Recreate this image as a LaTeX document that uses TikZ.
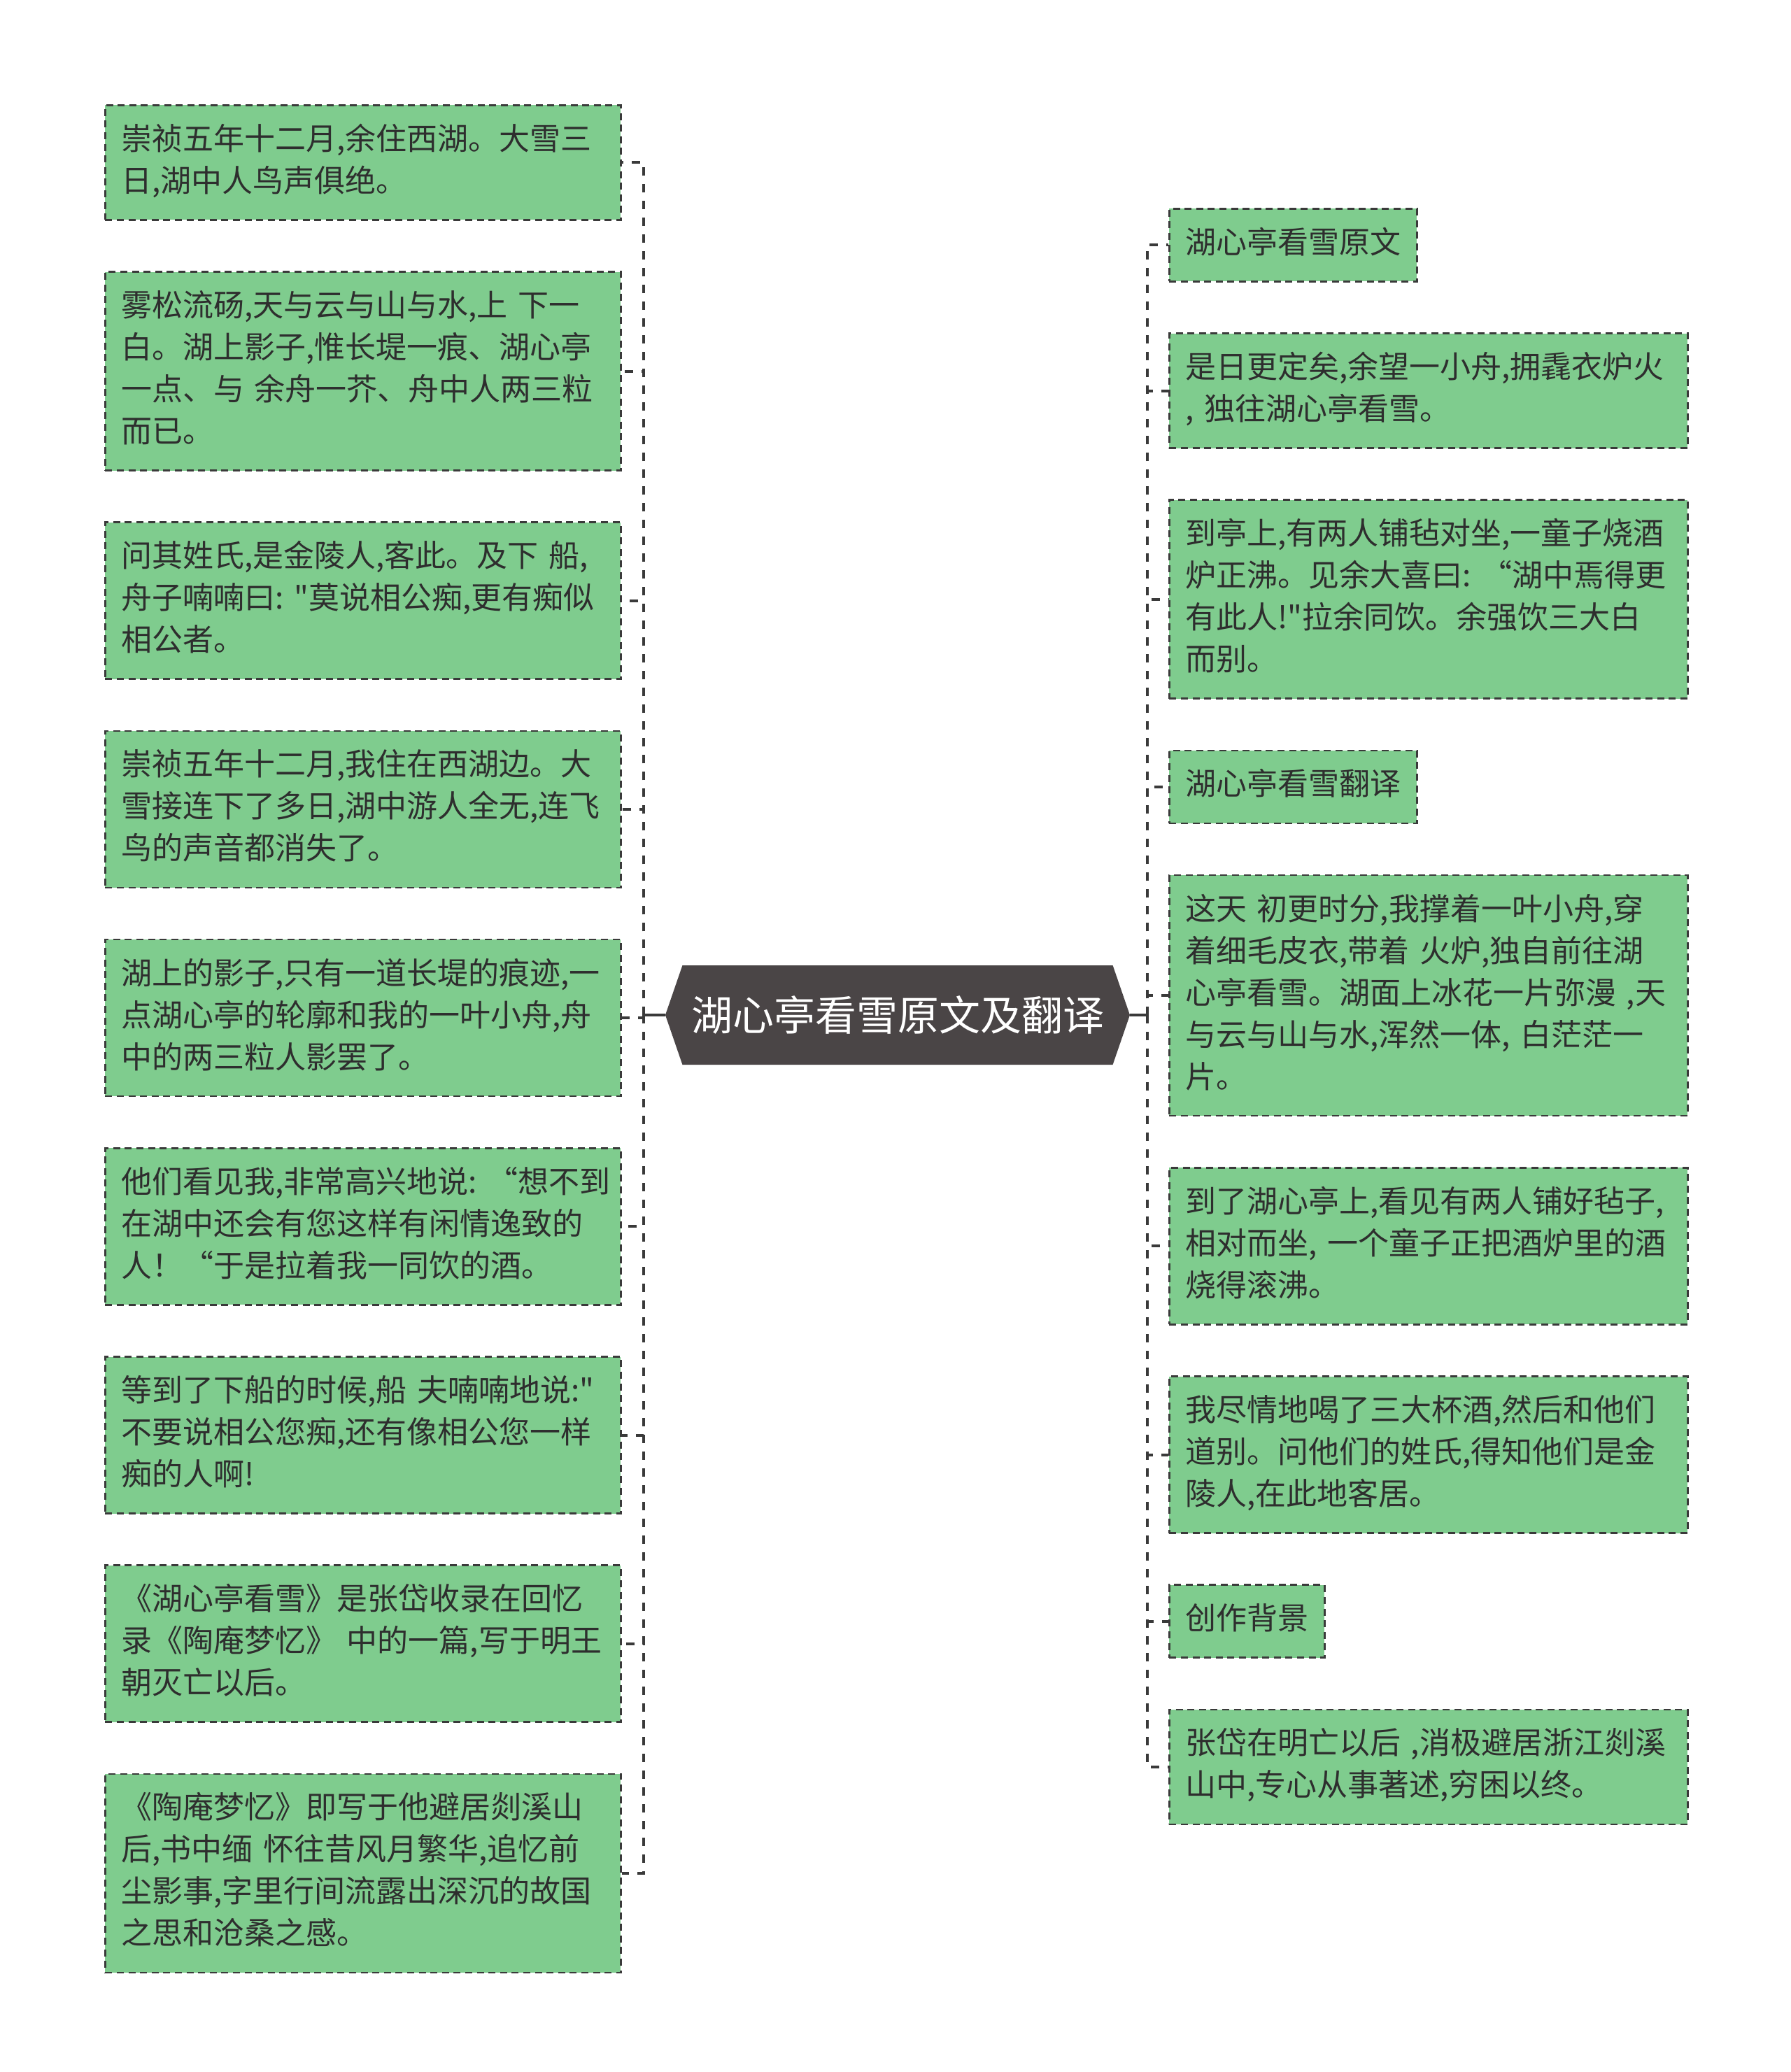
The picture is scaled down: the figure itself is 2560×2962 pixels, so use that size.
\documentclass[tikz,border=0pt]{standalone}
\usepackage{fontspec}
\newfontfamily\cjkfont{Noto Sans CJK SC}
\usepackage{tikz}
\usetikzlibrary{positioning,shapes.symbols}
\definecolor{leafgreen}{HTML}{7FCC8E}
\definecolor{edgegray}{HTML}{3A3A3A}
\definecolor{rootgray}{HTML}{4A4546}
\definecolor{inkgray}{HTML}{2E2E2E}

\begin{document}
\begin{tikzpicture}[
  x=0.5pt, y=-0.5pt,
  node distance=35.8pt,
  leaf/.style={draw=edgegray, line width=1.3pt, dash pattern=on 5pt off 3.3pt, fill=leafgreen, text=inkgray,
    font=\cjkfont\fontsize{22pt}{30pt}\selectfont, align=left, inner xsep=11.5pt, inner ysep=11pt,
    execute at begin node=\strut, execute at end node=\strut},
  leftleaf/.style={leaf, text width=345.5pt},
  rightleaf/.style={leaf, text width=347.5pt},
  rootnode/.style={shape=signal, signal to=west and east, signal pointer angle=142, fill=rootgray, text=white,
    font=\cjkfont\fontsize{29.5pt}{34pt}\selectfont, inner sep=0pt, minimum width=332pt, minimum height=71pt},
  trunk/.style={draw=edgegray, line width=2pt},
  link/.style={draw=edgegray, line width=2pt, dash pattern=on 6pt off 6pt}
]
\useasboundingbox (0,0) rectangle (2560,2962);

\node[rootnode] (root) at (1283,1451) {湖心亭看雪原文及翻译};

\node[leftleaf, anchor=north west] (l1) at (149,149) {崇祯五年十二月,余住西湖。大雪三\\日,湖中人鸟声俱绝。};
\node[leftleaf, below=of l1.south west, anchor=north west] (l2) {雾松流砀,天与云与山与水,上~下一\\白。湖上影子,惟长堤一痕、湖心亭\\一点、与~余舟一芥、舟中人两三粒\\而已。};
\node[leftleaf, below=of l2.south west, anchor=north west] (l3) {问其姓氏,是金陵人,客此。及下~船,\\舟子喃喃曰:~"莫说相公痴,更有痴似\\相公者。};
\node[leftleaf, below=of l3.south west, anchor=north west] (l4) {崇祯五年十二月,我住在西湖边。大\\雪接连下了多日,湖中游人全无,连飞\\鸟的声音都消失了。};
\node[leftleaf, below=of l4.south west, anchor=north west] (l5) {湖上的影子,只有一道长堤的痕迹,一\\点湖心亭的轮廓和我的一叶小舟,舟\\中的两三粒人影罢了。};
\node[leftleaf, below=of l5.south west, anchor=north west] (l6) {他们看见我,非常高兴地说:~“想不到\\在湖中还会有您这样有闲情逸致的\\人！“于是拉着我一同饮的酒。};
\node[leftleaf, below=of l6.south west, anchor=north west] (l7) {等到了下船的时候,船~夫喃喃地说:"\\不要说相公您痴,还有像相公您一样\\痴的人啊!};
\node[leftleaf, below=of l7.south west, anchor=north west] (l8) {《湖心亭看雪》是张岱收录在回忆\\录《陶庵梦忆》~中的一篇,写于明王\\朝灭亡以后。};
\node[leftleaf, below=of l8.south west, anchor=north west] (l9) {《陶庵梦忆》即写于他避居剡溪山\\后,书中缅~怀往昔风月繁华,追忆前\\尘影事,字里行间流露出深沉的故国\\之思和沧桑之感。};

\node[leaf, anchor=north west] (r1) at (1670,297) {湖心亭看雪原文};
\node[rightleaf, below=of r1.south west, anchor=north west] (r2) {是日更定矣,余望一小舟,拥毳衣炉火\\,~独往湖心亭看雪。};
\node[rightleaf, below=of r2.south west, anchor=north west] (r3) {到亭上,有两人铺毡对坐,一童子烧酒\\炉正沸。见余大喜曰:~“湖中焉得更\\有此人!"拉余同饮。余强饮三大白\\而别。};
\node[leaf, below=of r3.south west, anchor=north west] (r4) {湖心亭看雪翻译};
\node[rightleaf, below=of r4.south west, anchor=north west] (r5) {这天~初更时分,我撑着一叶小舟,穿\\着细毛皮衣,带着~火炉,独自前往湖\\心亭看雪。湖面上冰花一片弥漫~,天\\与云与山与水,浑然一体,~白茫茫一\\片。};
\node[rightleaf, below=of r5.south west, anchor=north west] (r6) {到了湖心亭上,看见有两人铺好毡子,\\相对而坐,~一个童子正把酒炉里的酒\\烧得滚沸。};
\node[rightleaf, below=of r6.south west, anchor=north west] (r7) {我尽情地喝了三大杯酒,然后和他们\\道别。问他们的姓氏,得知他们是金\\陵人,在此地客居。};
\node[leaf, below=of r7.south west, anchor=north west] (r8) {创作背景};
\node[rightleaf, below=of r8.south west, anchor=north west] (r9) {张岱在明亡以后~,消极避居浙江剡溪\\山中,专心从事著述,穷困以终。};

\coordinate (lhub) at (920,1451);
\coordinate (rhub) at (1640,1451);
\draw[trunk] (root.west) -- (lhub);
\draw[trunk] (root.east) -- (rhub);
\foreach \n in {1,...,9}
  \draw[link] (lhub) |- (l\n.east);
\foreach \n in {1,...,9}
  \draw[link] (rhub) |- (r\n.west);
\end{tikzpicture}
\end{document}
